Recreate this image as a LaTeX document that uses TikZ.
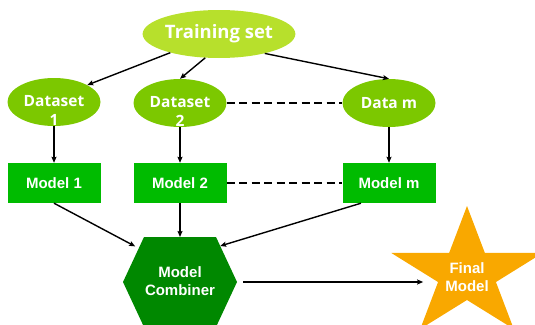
\documentclass[tikz,border=0pt]{standalone}
\usepackage{fontspec}
\setmainfont{Liberation Sans}
\newfontfamily\dsfont{Open Sans}
\usepackage{tikz}
\usetikzlibrary{arrows.meta,positioning,calc,shapes.geometric}
\usepackage{xcolor}
\definecolor{trainc}{RGB}{183,224,44}
\definecolor{dsetc}{RGB}{124,200,0}
\definecolor{modelc}{RGB}{0,187,0}
\definecolor{combc}{RGB}{0,136,0}
\definecolor{finalc}{RGB}{249,168,0}
\newcommand{\twoline}[2]{\smash{\raisebox{-4pt}{\begin{tabular}[t]{@{}c@{}}#1\\#2\end{tabular}}}}

\begin{document}
\begin{tikzpicture}[x=1pt, y=-1pt, >={Stealth[length=6pt,width=5pt,inset=1pt]},
  dset/.style={ellipse, fill=dsetc, inner sep=0pt, minimum width=93pt, minimum height=48pt,
    text=white, font=\dsfont\bfseries\fontsize{15.5}{19.5}\selectfont},
  model/.style={rectangle, fill=modelc, inner sep=0pt, minimum width=93pt, minimum height=40pt,
    text=white, font=\bfseries\fontsize{15}{18}\selectfont},
  arr/.style={->, line width=1.4pt},
  dashline/.style={line width=1.6pt, dash pattern=on 8pt off 4.5pt}]

  \useasboundingbox (0,0) rectangle (535,324);

  % Define nodes
  \node[ellipse, fill=trainc, inner sep=0pt, minimum width=130pt, minimum height=48pt,
    text=white, font=\dsfont\bfseries\fontsize{18.5}{22}\selectfont] (T) at (219,34) {Training set};
  \node[dset] (D1) at (54,102) {\twoline{Dataset}{1}};
  \node[dset] (D2) at (180,103) {\twoline{Dataset}{2}};
  \node[dset] (Dm) at (389,103) {Data m};
  \node[model] (M1) at (54,183) {Model 1};
  \node[model] (M2) at (180,183) {Model 2};
  \node[model] (Mm) at (389,183) {Model m};

  % Combiner hexagon
  \fill[combc] (123,282) coordinate (hW) -- (144,237) coordinate (hNW)
    -- (216,237) coordinate (hNE) -- (237,282) coordinate (hE)
    -- (216,327) -- (144,327) -- cycle;
  \node[text=white, align=center, font=\bfseries\fontsize{15}{18}\selectfont] (C) at (180,281) {Model\\Combiner};

  % Final star
  \coordinate (fc) at (467,274);
  \fill[finalc, shift={(fc)}, xscale=1.17] (-90:68)
    \foreach \k in {0,...,4} {-- ({-90+72*\k}:68) -- ({-54+72*\k}:26)} -- cycle;
  \node[text=white, align=center, inner xsep=22pt, inner ysep=0pt,
    font=\bfseries\fontsize{15}{18.5}\selectfont] (F) at (467,277) {Final\\Model};

  % Draw arrows
  \draw[arr] (T.201) -- (D1.27);
  \draw[arr] (T.240) -- (D2.north);
  \draw[arr] (T.337) -- (Dm.north);
  \draw[arr] (D1) -- (M1);
  \draw[arr] (D2) -- (M2);
  \draw[arr] (Dm) -- (Mm);
  \draw[dashline] (D2.east) -- (Dm.west);
  \draw[dashline] (M2.east) -- (Mm.west);
  \draw[arr, shorten >=4pt] (M1.south) -- ($(hNW)!0.25!(hW)$);
  \draw[arr] (M2.south) -- (M2.south |- hNW);
  \draw[arr] ($(Mm.south west)!0.2!(Mm.south east)$) -- ($(hNE)!0.2!(hE)$);
  \draw[arr, shorten <=6pt] (hE) -- (hE -| F.west);
\end{tikzpicture}
\end{document}
